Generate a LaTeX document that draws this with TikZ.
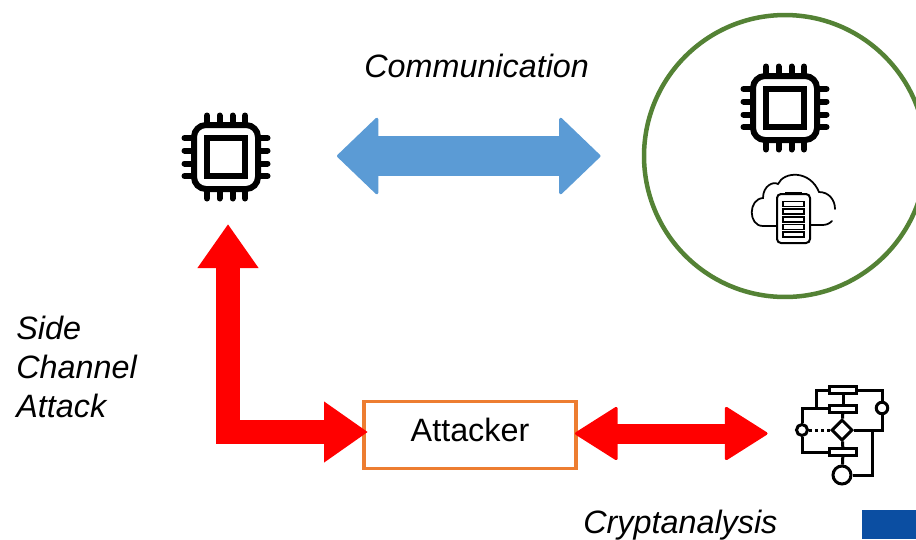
\documentclass[tikz,border=0pt]{standalone}
\usepackage{fontspec}
\setmainfont{Liberation Sans}
\usetikzlibrary{arrows.meta}
\usetikzlibrary{shapes.geometric}
\definecolor{commblue}{HTML}{5B9BD5}
\definecolor{boxorange}{HTML}{ED7D31}
\definecolor{circlegreen}{HTML}{548235}
\definecolor{cornerblue}{HTML}{0B4EA2}
\tikzset{
  label text/.style = {font=\fontsize{18.4}{22}\selectfont\itshape, inner sep=0pt},
  comm arrow/.style = {commblue, line width=0.8cm, {Triangle[length=0.84cm,width=1.6cm,round,line width=0.06cm]}-{Triangle[length=0.84cm,width=1.6cm,round,line width=0.06cm]}},
  side arrow/.style = {red, line width=0.48cm, {Triangle[length=0.88cm,width=1.16cm]}-{Triangle[length=0.88cm,width=1.16cm]}},
  crypto arrow/.style = {red, line width=0.4cm, {Triangle[length=0.88cm,width=1.1cm,round,line width=0.06cm]}-{Triangle[length=0.88cm,width=1.1cm,round,line width=0.06cm]}},
  flow line/.style = {line width=0.06cm},
  flow box/.style = {draw, flow line, fill=white, minimum width=0.54cm, minimum height=0.14cm, inner sep=0pt},
  flow dot/.style = {draw, flow line, fill=white, circle, inner sep=0pt},
  chip/.pic = {
    \draw[line width=0.12cm, rounded corners=0.24cm] (-32,-32) rectangle (32,32);
    \draw[line width=0.13cm] (-19,-19) rectangle (19,19);
    \foreach \p in {-19,-6.5,6.5,19} {
      \draw[line width=0.12cm, line cap=round] (\p,-41.5) -- (\p,-33);
      \draw[line width=0.12cm, line cap=round] (\p,33) -- (\p,41.5);
      \draw[line width=0.12cm, line cap=round] (-41.5,\p) -- (-33,\p);
      \draw[line width=0.12cm, line cap=round] (33,\p) -- (41.5,\p);
    }
  }
}
\begin{document}
\begin{tikzpicture}[x=0.02cm, y=-0.02cm]
        \useasboundingbox (0,0) rectangle (916,539);
        \node[draw=circlegreen, line width=0.09cm, circle, minimum size=5.64cm, inner sep=0pt] (device) at (785,156) {};
        \node[minimum size=1.76cm, inner sep=0pt] (chipLeft) at (226,157) {};
        \node[minimum size=1.76cm, inner sep=0pt] (chipRight) at (785,108) {};
        \pic at (chipLeft) {chip};
        \pic at (chipRight) {chip};
        \draw[line width=0.035cm, line cap=round] (777,226) -- (763,226) .. controls (748,226) and (748,199) .. (763,198) .. controls (763,186) and (773,181) .. (778,184) .. controls (784,171) and (810,170) .. (819,192) .. controls (829,192) and (835,200) .. (835,209);
        \draw[line width=0.035cm, line cap=round] (832,221) .. controls (829,224) and (826,225) .. (822,225) -- (810,225);
        \draw[line width=0.04cm, fill=white, rounded corners=0.08cm] (777,194) rectangle (810,243);
        \draw[line width=0.04cm] (785,192.5) -- (802,192.5);
        \foreach \c in {0,...,4} {
          \draw[line width=0.035cm, fill=white] (783,201.5+\c*7.7) rectangle ++(21,5);
        }
        \node[draw=boxorange, line width=0.065cm, minimum width=4.24cm, minimum height=1.33cm, inner sep=0pt, text height=0.48cm, text depth=0.24cm, font=\fontsize{18.4}{22}\selectfont] (attacker) at (470,435) {Attacker};
        \node[flow box] (flowTop) at (843,390.3) {};
        \node[flow box] (flowMid) at (843,408.7) {};
        \node[flow box] (flowLow) at (843,452) {};
        \node[draw, flow line, fill=white, diamond, aspect=1, minimum size=0.42cm, inner sep=0pt] (flowTest) at (842,430) {};
        \node[flow dot, minimum size=0.22cm] (flowLeft) at (802,430) {};
        \node[flow dot, minimum size=0.23cm] (flowRight) at (882,408) {};
        \node[flow dot, minimum size=0.36cm] (flowEnd) at (842,475) {};
        \coordinate (flowJoin) at (816,408);
        \coordinate (flowTee) at (872,430);
        \draw[flow line] (flowTop.west) -| (flowJoin);
        \draw[flow line] (flowMid.west) -| (flowLeft.north);
        \draw[flow line] (flowLeft.south) |- (flowLow.west);
        \draw[flow line] (flowTop.east) -| (flowRight.north);
        \draw[flow line] (flowRight.south) |- (flowTest.east);
        \draw[flow line] (flowEnd.east) -| (flowTee);
        \draw[flow line] (flowTop) -- (flowMid);
        \draw[flow line] (flowMid) -- (flowTest);
        \draw[flow line] (flowTest) -- (flowLow);
        \draw[flow line] (flowLow) -- (flowEnd);
        \draw[flow line, dash pattern=on 0.06cm off 0.06cm] (flowLeft.east) -- (flowTest.west);
        \coordinate (commLeft) at (337,156);
        \coordinate (commRight) at (600.5,156);
        \coordinate (sideTip) at (228,224);
        \coordinate (sideEnd) at (368,432);
        \coordinate (cryptoLeft) at (575,433.5);
        \coordinate (cryptoRight) at (767.5,433.5);
        \draw[comm arrow] (commLeft) -- (commRight);
        \draw[side arrow] (sideTip) |- (sideEnd);
        \draw[crypto arrow] (cryptoLeft) -- (cryptoRight);
        \node[label text, anchor=base west] (commLabel) at (364,77) {Communication};
        \node[label text, anchor=base west] (cryptoLabel) at (583,533) {Cryptanalysis};
        \node[label text, anchor=north west, align=left, font=\fontsize{18.4}{22}\selectfont\itshape] (sideLabel) at (16,316) {Side\\Channel\\Attack};
        \fill[cornerblue] (862,510) rectangle (916,539);
        \end{tikzpicture}
\end{document}
